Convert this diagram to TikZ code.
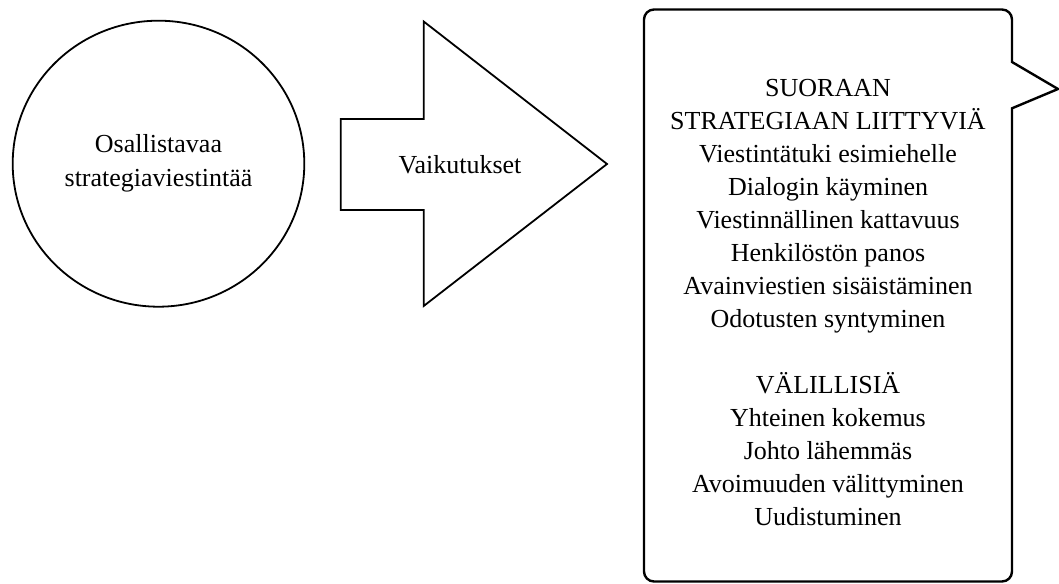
\documentclass[tikz,border=0pt]{standalone}
\usepackage{fontspec}
\setmainfont{Liberation Serif}
\usetikzlibrary{shapes.geometric}
\begin{document}
\begin{tikzpicture}[x=1pt, y=-1pt,
  outline/.style={draw=black, line width=1.8pt, line join=miter},
  boxline/.style={draw=black, line width=2.4pt, line join=miter},
  label/.style={font=\fontsize{26}{33}\selectfont, align=center, inner sep=0pt},
]
\useasboundingbox (0,0) rectangle (1059,583);

% Source: participatory strategy communication
\node[ellipse, outline, minimum width=291.6pt, minimum height=286pt, inner sep=0pt,
      font=\fontsize{26}{34}\selectfont, align=center] (source) at (158.5,163.7)
  {Osallistavaa\\strategiaviestintää};

% Block arrow carrying the "effects" label
\draw[outline] (340.7,119) -- (423.7,119) -- (423.7,21.5) -- (607,164)
  -- (423.7,306) -- (423.7,210) -- (340.7,210) -- cycle;
\node[label] (effects) at (460,165) {Vaikutukset};

% Callout: rounded box with a sharp pointer on its right side
\draw[boxline] (1012,62) -- (1012,19.5) arc (0:-90:10) -- (654,9.5) arc (-90:-180:10)
  -- (644,571.5) arc (180:90:10) -- (1002,581.5) arc (90:0:10)
  -- (1012,108.3) -- (1058,89) -- cycle;
\node[label] (effectlist) at (828,302.5)
  {SUORAAN\\STRATEGIAAN LIITTYVIÄ\\Viestintätuki esimiehelle\\Dialogin käyminen\\
   Viestinnällinen kattavuus\\Henkilöstön panos\\Avainviestien sisäistäminen\\
   Odotusten syntyminen\\[33pt]
   VÄLILLISIÄ\\Yhteinen kokemus\\Johto lähemmäs\\Avoimuuden välittyminen\\Uudistuminen};
\end{tikzpicture}
\end{document}
